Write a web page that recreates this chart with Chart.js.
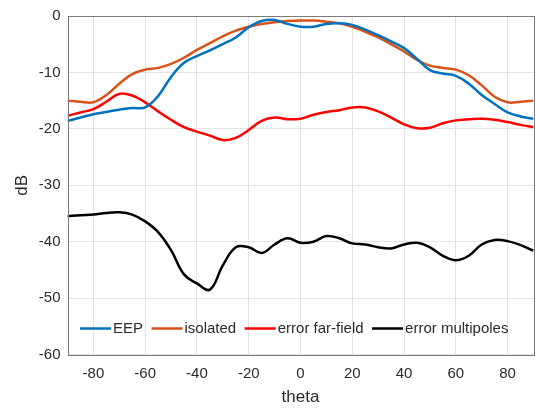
<!DOCTYPE html>
<html>
<head>
<meta charset="utf-8">
<script src="https://cdn.jsdelivr.net/npm/chart.js@4/dist/chart.umd.min.js"></script>
<style>
  html, body { margin: 0; background: #fff; }
  canvas { display: block; }
</style>
</head>
<body>
<canvas id="chart" width="535" height="410"></canvas>
<script>
// angles in degrees, 5 deg steps
const theta = [-90, -85, -80, -75, -70, -65, -60, -55, -50, -45, -40, -35, -30, -25, -20, -15, -10, -5,
  0, 5, 10, 15, 20, 25, 30, 35, 40, 45, 50, 55, 60, 65, 70, 75, 80, 85, 90];

const eep = [-18.6, -18.0, -17.4, -17.0, -16.6, -16.3, -16.2, -14.2, -10.8, -8.3, -7.1, -6.1, -5.0, -3.8, -2.0, -0.9, -0.7, -1.4,
  -1.9, -1.9, -1.4, -1.3, -1.6, -2.4, -3.4, -4.5, -5.7, -7.6, -9.6, -10.2, -10.6, -12.0, -14.0, -15.6, -17.1, -17.8, -18.2];

const isolated = [-15.0, -15.2, -15.3, -14.0, -12.0, -10.3, -9.5, -9.2, -8.5, -7.4, -6.0, -4.8, -3.6, -2.6, -1.9, -1.4, -1.1, -0.9,
  -0.8, -0.8, -1.0, -1.3, -1.9, -2.8, -3.8, -5.0, -6.3, -7.8, -8.8, -9.2, -9.5, -10.5, -12.3, -14.3, -15.3, -15.2, -15.0];

const errorFarField = [-17.7, -17.1, -16.5, -15.2, -13.8, -14.1, -15.3, -16.9, -18.4, -19.7, -20.5, -21.2, -22.0, -21.6, -20.2, -18.6, -18.0, -18.3,
  -18.2, -17.5, -17.0, -16.7, -16.2, -16.2, -16.9, -18.0, -19.2, -19.9, -19.8, -19.0, -18.5, -18.3, -18.2, -18.4, -18.8, -19.3, -19.7];

const errorMultipoles = [-35.5, -35.3, -35.2, -34.9, -34.8, -35.2, -36.4, -38.3, -41.5, -45.8, -47.4, -48.5, -44.2, -41.0, -41.0, -42.0, -40.5, -39.4,
  -40.2, -40.0, -39.0, -39.4, -40.3, -40.5, -41.0, -41.2, -40.5, -40.2, -41.0, -42.5, -43.3, -42.5, -40.5, -39.7, -39.9, -40.6, -41.6];

const seriesNames = ['EEP', 'isolated', 'error far-field', 'error multipoles'];
const seriesColors = ['#0072BD', '#D95319', '#FF0000', '#000000'];

const xTicks = [-80, -60, -40, -20, 0, 20, 40, 60, 80];
const yTicks = [-60, -50, -40, -30, -20, -10, 0];

const FONT = '"Liberation Sans", Arial, sans-serif';
const TEXT = '#2b2b2b';

function toPoints(values) {
  return values.map((v, i) => ({ x: theta[i], y: v }));
}

// MATLAB-like box around the axes
const boxPlugin = {
  id: 'box',
  afterDraw(chart) {
    const { ctx, chartArea: a } = chart;
    ctx.save();
    ctx.strokeStyle = '#7a7a7a';
    ctx.lineWidth = 1;
    ctx.strokeRect(Math.round(a.left) + 0.5, Math.round(a.top) + 0.5,
      Math.round(a.right - a.left), Math.round(a.bottom - a.top));
    ctx.restore();
  },
};

// legend drawn inside the plot, along the bottom
const insideLegend = {
  id: 'insideLegend',
  afterDraw(chart) {
    const { ctx } = chart;
    ctx.save();
    ctx.font = '15px ' + FONT;
    ctx.textBaseline = 'middle';
    ctx.fillStyle = TEXT;
    let x = 80;
    const y = 328.5;
    chart.data.datasets.forEach((ds) => {
      ctx.strokeStyle = ds.borderColor;
      ctx.lineWidth = 2.5;
      ctx.beginPath();
      ctx.moveTo(x, y);
      ctx.lineTo(x + 31, y);
      ctx.stroke();
      ctx.fillText(ds.label, x + 33, y + 0.5);
      x += 33 + ctx.measureText(ds.label).width + 8.5;
    });
    ctx.restore();
  },
};

const series = [eep, isolated, errorFarField, errorMultipoles];

new Chart(document.getElementById('chart'), {
  type: 'line',
  data: {
    datasets: series.map((values, i) => ({
      label: seriesNames[i],
      data: toPoints(values),
      borderColor: seriesColors[i],
      borderWidth: 2.5,
      pointRadius: 0,
      fill: false,
      tension: 0.4,
    })),
  },
  options: {
    responsive: false,
    animation: false,
    layout: { padding: { top: 13, right: 1.5, left: 0, bottom: 0 } },
    plugins: {
      legend: { display: false },
      tooltip: { enabled: false },
    },
    scales: {
      x: {
        type: 'linear',
        min: -90,
        max: 90,
        afterBuildTicks: (scale) => { scale.ticks = xTicks.map((v) => ({ value: v })); },
        afterFit: (scale) => { scale.height = 55.5; },
        grid: { color: '#e3e3e3', drawTicks: false },
        border: { display: false },
        ticks: { color: TEXT, font: { family: FONT, size: 15 }, padding: 10, maxRotation: 0 },
        title: { display: true, text: 'theta', color: TEXT, font: { family: FONT, size: 17 }, padding: { bottom: 2 } },
      },
      y: {
        min: -60,
        max: 0,
        afterBuildTicks: (scale) => { scale.ticks = yTicks.map((v) => ({ value: v })); },
        afterFit: (scale) => { scale.width = 67.5; },
        grid: { color: '#e3e3e3', drawTicks: false },
        border: { display: false },
        ticks: { color: TEXT, font: { family: FONT, size: 15 }, padding: 7 },
        title: { display: true, text: 'dB', color: TEXT, font: { family: FONT, size: 17 }, padding: { top: 12 } },
      },
    },
  },
  plugins: [boxPlugin, insideLegend],
});
</script>
</body>
</html>
